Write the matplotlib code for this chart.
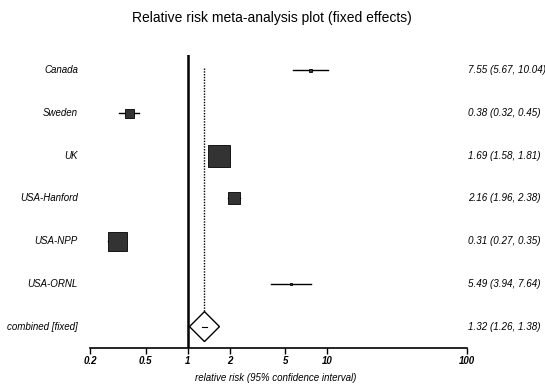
import matplotlib
matplotlib.use("Agg")
import matplotlib.pyplot as plt
from matplotlib.patches import Polygon
import matplotlib.transforms as mtransforms

# data
studies = ["Canada", "Sweden", "UK", "USA-Hanford", "USA-NPP", "USA-ORNL"]
rr = [7.55, 0.38, 1.69, 2.16, 0.31, 5.49]
lo = [5.67, 0.32, 1.58, 1.96, 0.27, 3.94]
hi = [10.04, 0.45, 1.81, 2.38, 0.35, 7.64]
combined_label = "combined [fixed]"
comb_rr, comb_lo, comb_hi = 1.32, 1.26, 1.38
xticks = [0.2, 0.5, 1, 2, 5, 10, 100]
xticklabels = ["0.2", "0.5", "1", "2", "5", "10", "100"]

# box side lengths in pixels (as drawn)
box_px = [3, 9, 22, 12, 19, 2]

plt.rcParams['font.family'] = ['Liberation Sans', 'DejaVu Sans']

W, H = 545, 388
fig = plt.figure(figsize=(W / 100, H / 100), dpi=100)
ax = fig.add_axes([90 / W, (H - 348) / H, (467 - 90) / W, (348 - 55) / H])

n = len(studies)
ax.set_xscale("log")
ax.set_xlim(0.2, 100)
ax.set_ylim(6.5, -0.35)

for s in ["top", "right", "left"]:
    ax.spines[s].set_visible(False)
ax.spines["bottom"].set_linewidth(1.2)
ax.set_yticks([])
ax.set_xticks(xticks)
ax.set_xticklabels(xticklabels, fontstyle="italic", fontweight="bold", fontsize=7)
ax.minorticks_off()
ax.tick_params(axis="x", length=4, width=1, pad=2)

# reference line at 1 and dotted line at the combined estimate
ax.axvline(1, color="black", lw=1.8, zorder=1)
ax.plot([comb_rr, comb_rr], [-0.05, n - 0.35], color="black", lw=1, ls=(0, (1, 1)), zorder=1)

# study estimates
px_to_pt = 72 / 100
for i in range(n):
    ax.plot([lo[i], hi[i]], [i, i], color="black", lw=1, zorder=2)
    ax.plot(rr[i], i, marker="s", ms=box_px[i] * px_to_pt, color="#333333",
            mec="black", mew=0.6, zorder=3)

# combined diamond (fixed pixel size around estimate)
half_w_dex = 15 / 139.7
half_h = 15 / 42.8
yc = n
diamond = Polygon([[comb_rr * 10 ** (-half_w_dex), yc], [comb_rr, yc - half_h],
                   [comb_rr * 10 ** half_w_dex, yc], [comb_rr, yc + half_h]],
                  closed=True, facecolor="white", edgecolor="black", lw=1, zorder=3)
ax.add_patch(diamond)
ax.plot([comb_lo, comb_hi], [yc, yc], color="black", lw=0.8, zorder=4)

# labels
trans = mtransforms.blended_transform_factory(ax.transAxes, ax.transData)
labels = studies + [combined_label]
vals = [f"{rr[i]:.2f} ({lo[i]:.2f}, {hi[i]:.2f})" for i in range(n)]
vals.append(f"{comb_rr:.2f} ({comb_lo:.2f}, {comb_hi:.2f})")
for i, (lab, v) in enumerate(zip(labels, vals)):
    ax.text(-0.032, i, lab, transform=trans, ha="right", va="center",
            fontsize=7, fontstyle="italic", clip_on=False)
    ax.text(1.003, i, v, transform=trans, ha="left", va="center",
            fontsize=7.1, fontstyle="italic", clip_on=False)

fig.text(272 / W, 1 - 18 / H, "Relative risk meta-analysis plot (fixed effects)",
         ha="center", va="center", fontsize=10)
fig.text(276 / W, 1 - 378 / H, "relative risk (95% confidence interval)",
         ha="center", va="center", fontsize=7, fontstyle="italic")

fig.savefig("out.png", dpi=100)
